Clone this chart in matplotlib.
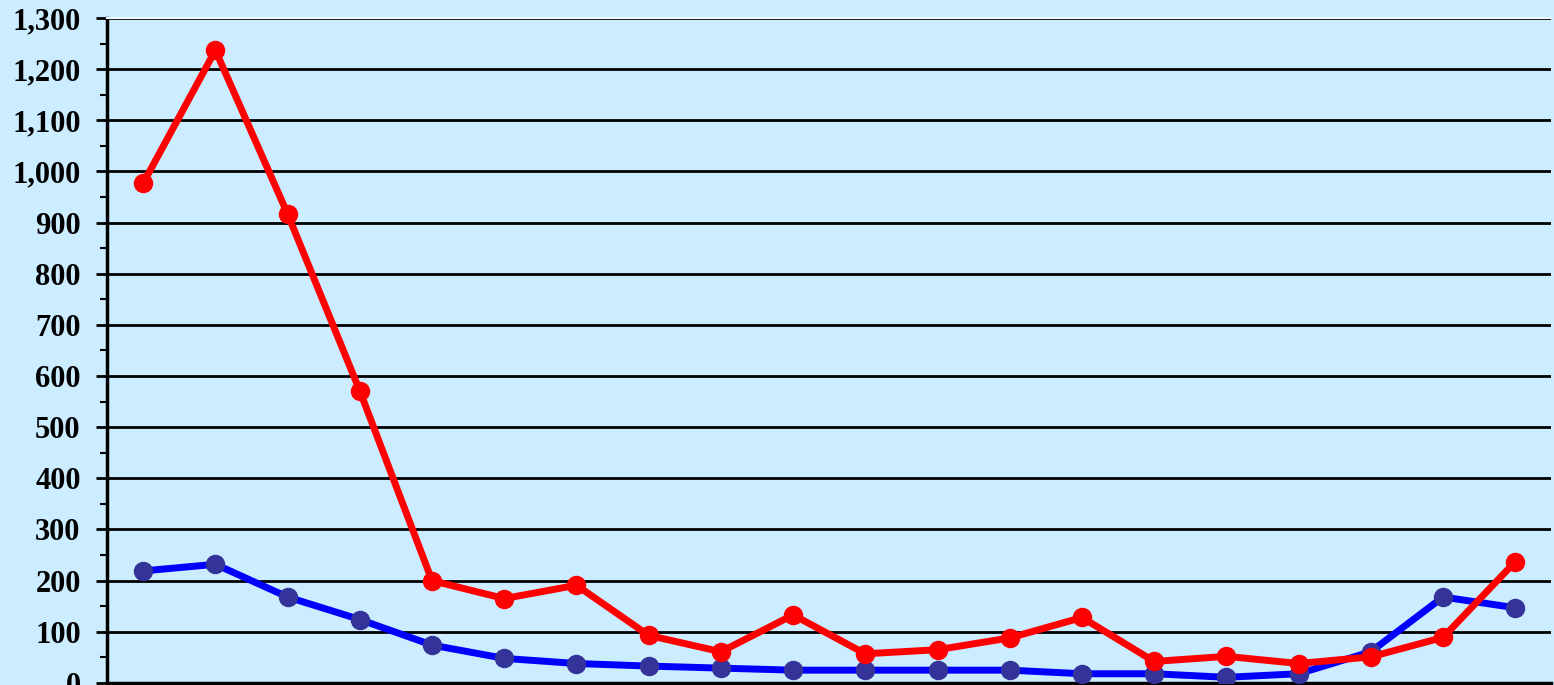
import numpy as np
import matplotlib.pyplot as plt
from matplotlib.ticker import MultipleLocator, FuncFormatter

# Valores (20 categorias, rótulos do eixo x fora da imagem)
categorias = list(range(1, 21))
serie_vermelha = [977, 1237, 917, 571, 200, 165, 191, 93, 61, 133,
                  57, 65, 88, 128, 42, 52, 38, 51, 89, 237]
serie_azul = [219, 232, 168, 124, 74, 48, 38, 33, 29, 25,
              25, 25, 25, 18, 18, 11, 18, 61, 168, 147]

fig = plt.figure(figsize=(15.54, 6.85), dpi=100)
fig.patch.set_facecolor("#CCECFF")
ax = fig.add_axes([0.0689, 0.003, 0.9294, 0.9707])
ax.set_facecolor("#CCECFF")

x = np.arange(len(categorias))
ax.plot(x, serie_azul, color="#0000FF", linewidth=5, marker="o",
        markersize=13, markerfacecolor="#333399", markeredgecolor="#333399",
        solid_joinstyle="round", zorder=3)
ax.plot(x, serie_vermelha, color="#FF0000", linewidth=5, marker="o",
        markersize=13, markerfacecolor="#FF0000", markeredgecolor="#FF0000",
        solid_joinstyle="round", zorder=4)

ax.set_xlim(-0.5, len(categorias) - 0.5)
ax.set_ylim(0, 1300)

# Eixo y
ax.yaxis.set_major_locator(MultipleLocator(100))
ax.yaxis.set_minor_locator(MultipleLocator(50))
ax.yaxis.set_major_formatter(FuncFormatter(lambda v, p: f"{int(v):,}"))
ax.tick_params(axis="y", which="major", direction="out", length=8, width=2,
               pad=11, labelsize=22)
ax.tick_params(axis="y", which="minor", direction="out", length=5, width=1.5)
for rotulo in ax.get_yticklabels():
    rotulo.set_fontfamily("Liberation Serif")
    rotulo.set_fontweight("bold")

# Eixo x: marcas nas divisões entre categorias
ax.set_xticks(np.arange(-0.5, len(categorias), 1.0))
ax.set_xticklabels([])
ax.tick_params(axis="x", direction="out", length=8, width=1.5)

ax.grid(axis="y", color="black", linewidth=2)
ax.set_axisbelow(True)

ax.spines["left"].set_linewidth(2.5)
ax.spines["bottom"].set_linewidth(2.5)
ax.spines["top"].set_color("#F0F8FF")
ax.spines["top"].set_linewidth(1.5)
ax.spines["right"].set_visible(False)

plt.savefig("out.png", dpi=100, facecolor=fig.get_facecolor())
